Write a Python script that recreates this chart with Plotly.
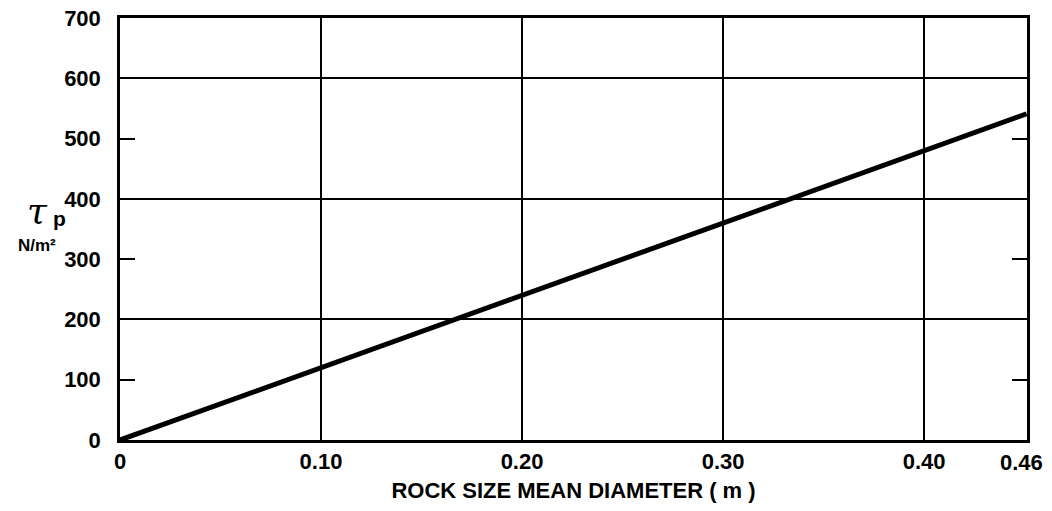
import plotly.graph_objects as go

# Data
diameter_m = [0.0, 0.451]
tau_p = [0, 541]

x_tick_vals = [0, 0.10, 0.20, 0.30, 0.40, 0.451]
x_tick_text = ["0", "0.10", "0.20", "0.30", "0.40", "0.46"]
y_tick_vals = [0, 100, 200, 300, 400, 500, 600, 700]
y_grid_vals = [200, 400, 600]

FONT = "Liberation Sans, Arial, sans-serif"

fig = go.Figure()
fig.add_trace(go.Scatter(x=diameter_m, y=tau_p, mode="lines",
                         line=dict(color="black", width=5),
                         showlegend=False, hoverinfo="skip"))

# last x tick label drawn as an annotation so it stays inside the page edge
main_tick_vals = x_tick_vals[:-1]
main_tick_text = x_tick_text[:-1]

fig.update_layout(
    width=1044, height=495,
    margin=dict(l=112, r=25, t=10, b=63),
    paper_bgcolor="white", plot_bgcolor="white",
    font=dict(family=FONT, color="black", size=22, weight="bold"),
    xaxis=dict(
        range=[0, 0.4512], tickvals=main_tick_vals, ticktext=main_tick_text,
        showgrid=True, gridcolor="black", gridwidth=2,
        showline=True, linecolor="black", linewidth=2.5, mirror=True,
        ticks="", zeroline=False, automargin=False, ticklabeloverflow="allow",
        tickfont=dict(family=FONT, size=22, weight="bold"),
        title=dict(text="ROCK SIZE MEAN DIAMETER ( m )", standoff=13,
                   font=dict(family=FONT, size=22, weight="bold")),
    ),
    yaxis=dict(
        range=[0, 700], tickvals=y_tick_vals,
        showgrid=False, zeroline=False, automargin=False, ticklabeloverflow="allow",
        showline=True, linecolor="black", linewidth=2.5, mirror="ticks",
        ticks="inside", ticklen=15, tickwidth=2, tickcolor="black",
        minor=dict(tickvals=y_grid_vals, showgrid=True, gridcolor="black",
                   gridwidth=2, ticks=""),
        tickfont=dict(family=FONT, size=22, weight="bold"),
        ticklabelstandoff=12,
    ),
)

fig.add_annotation(xref="x", yref="paper", x=x_tick_vals[-1], y=0,
                   text=x_tick_text[-1], showarrow=False,
                   xanchor="center", yanchor="middle", xshift=-5, yshift=-22,
                   font=dict(family=FONT, size=22, weight="bold", color="black"))

fig.add_annotation(xref="paper", yref="paper", x=-0.077, y=0.545,
                   text="<i>τ</i>", showarrow=False, xanchor="right", yanchor="middle",
                   font=dict(family="DejaVu Serif, serif", size=36, color="black",
                             weight="normal"))
fig.add_annotation(xref="paper", yref="paper", x=-0.076, y=0.525,
                   text="p", showarrow=False, xanchor="left", yanchor="middle",
                   font=dict(family=FONT, size=21, weight="bold", color="black"))
fig.add_annotation(xref="paper", yref="paper", x=-0.068, y=0.46,
                   text="N/m²", showarrow=False, xanchor="right", yanchor="middle",
                   font=dict(family=FONT, size=17, weight="bold", color="black"))

fig.write_html("out.html")
